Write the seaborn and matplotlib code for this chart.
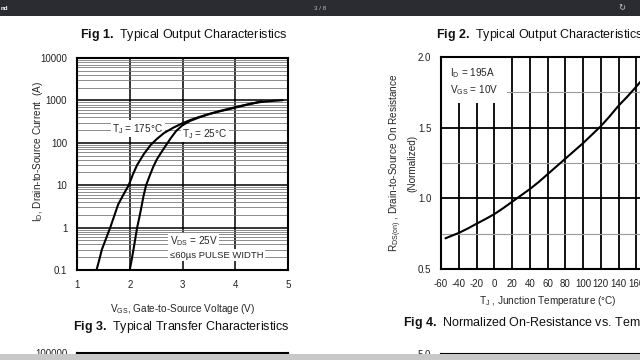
import numpy as np
import pandas as pd
import matplotlib
matplotlib.use("Agg")
import matplotlib.pyplot as plt
import seaborn as sns
from matplotlib.ticker import LogLocator, NullFormatter, FixedLocator
from matplotlib.patches import Rectangle

# --- data ---
# Fig 3: transfer characteristics (VGS in V, ID in A)
vgs_175 = [1.37, 1.42, 1.47, 1.55, 1.63, 1.70, 1.78, 1.88, 1.98, 2.06, 2.14, 2.27, 2.40,
           2.52, 2.65, 2.82, 3.00, 3.15, 3.30, 3.50, 3.70, 3.90, 4.10, 4.30, 4.50]
id_175 = [0.1, 0.17, 0.3, 0.55, 1, 1.8, 3.5, 6, 10, 18, 30, 55, 90,
          125, 170, 225, 290, 345, 400, 475, 550, 630, 725, 830, 960]
vgs_25 = [2.00, 2.035, 2.07, 2.10, 2.14, 2.18, 2.22, 2.26, 2.31, 2.38, 2.45, 2.52, 2.60, 2.68,
          2.78, 2.88, 3.00, 3.15, 3.30, 3.50, 3.70, 3.90, 4.10, 4.30, 4.50, 4.70, 4.90]
id_25 = [0.1, 0.17, 0.3, 0.5, 1, 1.7, 3, 5.5, 10, 17, 28, 42, 60, 85,
         130, 190, 260, 330, 390, 475, 560, 645, 740, 840, 920, 970, 1010]

# Fig 4: normalized on-resistance vs junction temperature
tj_c = [-55, -50, -40, -30, -20, -10, 0, 10, 20, 30, 40, 50, 60, 70, 80, 90,
        100, 110, 120, 130, 140, 150, 160, 175]
rds_norm = [0.717, 0.73, 0.755, 0.786, 0.82, 0.853, 0.888, 0.93, 0.975, 1.02, 1.065, 1.115,
            1.17, 1.225, 1.28, 1.335, 1.39, 1.45, 1.51, 1.58, 1.655, 1.72, 1.79, 1.90]

left_yticks = [0.1, 1, 10, 100, 1000, 10000]
left_yticklabels = ["0.1", "1", "10", "100", "1000", "10000"]
left_xticks = [1, 2, 3, 4, 5]
right_xticks = list(range(-60, 181, 20))
right_yticks = [0.5, 1.0, 1.5, 2.0]

sns.set_theme(style="white")
plt.rcParams["font.family"] = ["Liberation Sans", "DejaVu Sans"]
plt.rcParams["mathtext.fontset"] = "custom"
plt.rcParams["mathtext.rm"] = "Liberation Sans"
plt.rcParams["mathtext.bf"] = "Liberation Sans:bold"
plt.rcParams["mathtext.default"] = "regular"

W, H = 640, 360
fig = plt.figure(figsize=(6.4, 3.6), dpi=100)
fig.patch.set_facecolor("white")


def px_axes(left, top, right, bottom):
    return fig.add_axes([left / W, 1 - bottom / H, (right - left) / W, (bottom - top) / H])


def frame(ax):
    for s in ax.spines.values():
        s.set_visible(True)
        s.set_color("black")
        s.set_linewidth(1.5)
    ax.tick_params(length=0, labelsize=7, colors="#222222", pad=7)
    ax.set_axisbelow(True)


# ---------- left: transfer characteristics ----------
transfer = pd.concat([
    pd.DataFrame({"vgs": vgs_175, "id": id_175, "tj": "175"}),
    pd.DataFrame({"vgs": vgs_25, "id": id_25, "tj": "25"}),
])

ax1 = px_axes(77, 58, 288, 270)
frame(ax1)
ax1.set_yscale("log")
sns.lineplot(data=transfer, x="vgs", y="id", hue="tj", palette={"175": "black", "25": "black"},
             estimator=None, sort=False, legend=False, lw=1.5, ax=ax1, zorder=4)
ax1.set_xlim(1, 5)
ax1.set_ylim(0.1, 10000)
ax1.set_xticks(left_xticks)
ax1.set_yticks(left_yticks)
ax1.set_yticklabels(left_yticklabels)
ax1.yaxis.set_minor_locator(LogLocator(base=10, subs=np.arange(2, 10)))
ax1.yaxis.set_minor_formatter(NullFormatter())
ax1.grid(which="major", color="black", lw=1.1)
ax1.grid(which="minor", axis="y", color="#7a7a7a", lw=0.6)
ax1.set_xlabel("V$_{GS}$, Gate-to-Source Voltage (V)", fontsize=7.2)
ax1.set_ylabel("I$_D$, Drain-to-Source Current  (A)", fontsize=7.2)
ax1.xaxis.set_label_coords(0.5, -0.15)
ax1.yaxis.set_label_coords(-0.15, 0.56)

box = dict(facecolor="white", edgecolor="none", pad=1.0)
ax1.text(1.67, 215, "T$_J$ = 175°C", fontsize=7.2, va="center", ha="left", bbox=box, zorder=3)
ax1.text(2.99, 160, "T$_J$ = 25°C", fontsize=7.2, va="center", ha="left", bbox=box, zorder=3)
ax1.text(2.76, 0.47, "V$_{DS}$ = 25V", fontsize=7.2, va="center", ha="left", bbox=box, zorder=3)
ax1.text(2.76, 0.225, "≤60µs PULSE WIDTH", fontsize=6.8, va="center", ha="left", bbox=box, zorder=3)

# ---------- right: normalized on-resistance ----------
rds = pd.DataFrame({"tj": tj_c, "rds": rds_norm})
ax2 = px_axes(441, 57, 654, 269)
frame(ax2)
sns.lineplot(data=rds, x="tj", y="rds", color="black", lw=1.5, ax=ax2, zorder=4)
ax2.set_xlim(-60, 180)
ax2.set_ylim(0.5, 2.0)
ax2.set_xticks(right_xticks)
ax2.set_xticklabels([str(t) for t in right_xticks])
ax2.set_yticks(right_yticks)
ax2.set_yticklabels([f"{v:.1f}" for v in right_yticks])
ax2.yaxis.set_minor_locator(FixedLocator([0.75, 1.25, 1.75]))
ax2.grid(which="major", color="black", lw=1.3)
ax2.grid(which="minor", axis="y", color="#9a9a9a", lw=0.8)
ax2.tick_params(axis="x", pad=7)
ax2.add_patch(Rectangle((0, 0.783), 0.31, 0.217, transform=ax2.transAxes,
                        facecolor="white", edgecolor="none", zorder=2))
ax2.text(0.04, 0.925, "I$_D$ = 195A", transform=ax2.transAxes, fontsize=7.2, va="center", zorder=3)
ax2.text(0.04, 0.845, "V$_{GS}$ = 10V", transform=ax2.transAxes, fontsize=7.2, va="center", zorder=3)
ax2.set_xlabel("T$_J$ , Junction Temperature (°C)", fontsize=7.2)
ax2.set_ylabel("R$_{DS(on)}$ , Drain-to-Source On Resistance\n(Normalized)", fontsize=7.2,
               linespacing=1.45)
ax2.xaxis.set_label_coords(0.5, -0.12)
ax2.yaxis.set_label_coords(-0.11, 0.5)

# ---------- next page row (cut off) ----------
ax3 = px_axes(77, 353, 288, 565)
frame(ax3)
ax3.set_xlim(0, 1)
ax3.set_ylim(0, 1)
ax3.set_xticks([0.14, 0.22])
ax3.set_xticklabels([])
ax3.set_yticks([1])
ax3.set_yticklabels(["100000"])
ax3.grid(axis="x", color="black", lw=1.0)

ax4 = px_axes(441, 354, 654, 566)
frame(ax4)
ax4.set_xlim(0, 1)
ax4.set_ylim(0, 1)
ax4.set_xticks([])
ax4.set_yticks([1])
ax4.set_yticklabels(["5.0"])

# ---------- captions ----------
title_kw = dict(fontsize=9, va="center", color="#111111")
fig.text(184 / W, 1 - 35 / H, r"$\bf{Fig\ 1.}$ Typical Output Characteristics", ha="center", **title_kw)
fig.text(436 / W, 1 - 35 / H, r"$\bf{Fig\ 2.}$ Typical Output Characteristics", ha="left", **title_kw)
fig.text(181 / W, 1 - 327 / H, r"$\bf{Fig\ 3.}$ Typical Transfer Characteristics", ha="center", **title_kw)
fig.text(403 / W, 1 - 323 / H, r"$\bf{Fig\ 4.}$ Normalized On-Resistance vs. Temperature", ha="left", **title_kw)

# ---------- viewer chrome ----------
fig.patches.append(Rectangle((0, 1 - 16 / H), 1, 16 / H, transform=fig.transFigure,
                             facecolor="#2a2c32", edgecolor="none", zorder=10))
fig.patches.append(Rectangle((0, 0), 1, 6 / H, transform=fig.transFigure,
                             facecolor="#c8c8c8", edgecolor="none", zorder=10))
fig.text(320 / W, 1 - 8 / H, "3 / 8", fontsize=4.5, color="#bbbbbb", ha="center", va="center", zorder=11)
fig.text(1 / W, 1 - 8 / H, "nd", fontsize=4.5, color="white", weight="bold", ha="left", va="center", zorder=11)
fig.text(622 / W, 1 - 8 / H, "↻", fontsize=6, color="#cccccc", ha="center", va="center",
         family=["DejaVu Sans"], zorder=11)

fig.savefig("out.png", dpi=100)
